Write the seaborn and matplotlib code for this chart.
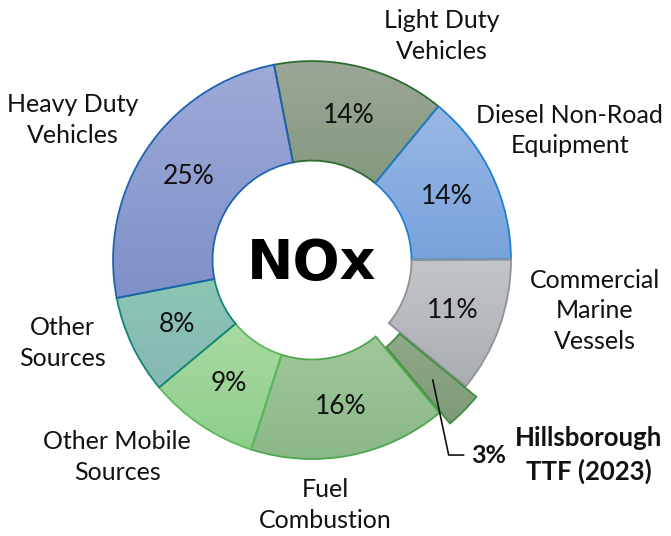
import numpy as np
import matplotlib
matplotlib.use('Agg')
import matplotlib.pyplot as plt
from matplotlib.colors import LinearSegmentedColormap
import seaborn as sns

# --- Data ---
sources = ['Light Duty\nVehicles', 'Diesel Non-Road\nEquipment', 'Commercial\nMarine\nVessels',
           'Hillsborough\nTTF (2023)', 'Fuel\nCombustion', 'Other Mobile\nSources',
           'Other\nSources', 'Heavy Duty\nVehicles']
shares = [14, 14, 11, 3, 16, 9, 8, 25]

# --- Style ---
top_colors = ['#9CA797', '#9AB8E6', '#C3C5C8', '#90A988', '#A0C89B', '#A9DAA4', '#8CC6B4', '#9EAAD8']
bottom_colors = ['#84997F', '#78A2DC', '#A9ADB2', '#7F9A78', '#8BB887', '#8ECE89', '#86B8B3', '#7F90C9']
edge_colors = ['#2F6B2F', '#1F7FCF', '#8E9196', '#3F8F3F', '#4EA64E', '#5CB85C', '#12857A', '#1F63B0']
explode = [0, 0, 0, 0.075, 0, 0, 0, 0]

# outer label positions (data units, radius = 1)
label_pos = [(0.653, 1.126), (1.296, 0.653), (1.422, -0.256), None,
             (0.065, -1.231), (-0.980, -0.990), (-1.256, -0.417), (-1.201, 0.704)]

sns.set_theme(style='white')
plt.rcParams['font.family'] = ['Lato', 'DejaVu Sans']

fig = plt.figure(figsize=(6.71, 5.36), dpi=100)
ax = fig.add_axes([0, 0, 1, 1])

wedges, _ = ax.pie(shares, colors=bottom_colors, startangle=101, counterclock=False,
                   explode=explode, radius=1.0,
                   wedgeprops=dict(width=0.5, linewidth=1.3))

# vertical gradient fill for each slice, clipped to the wedge
grad = np.linspace(0, 1, 256).reshape(-1, 1)
for w, ct, cb, ec in zip(wedges, top_colors, bottom_colors, edge_colors):
    w.set_edgecolor(ec)
    ext = w.get_path().get_extents()
    cmap = LinearSegmentedColormap.from_list('g', [cb, ct])
    im = ax.imshow(grad, cmap=cmap, origin='lower', aspect='auto',
                   extent=(ext.x0, ext.x1, ext.y0, ext.y1), zorder=w.get_zorder() - 0.1)
    im.set_clip_path(w)
    w.set_facecolor('none')
    w.set_zorder(w.get_zorder() + 0.5)

# percent labels in the ring
for i, (w, s) in enumerate(zip(wedges, shares)):
    if i == 3:
        continue
    ang = np.deg2rad((w.theta1 + w.theta2) / 2)
    ax.text(0.75 * np.cos(ang), 0.75 * np.sin(ang), f'{s}%', ha='center', va='center',
            fontsize=19, color='#111111', zorder=5)

# outer category labels
for lab, pos in zip(sources, label_pos):
    if pos is None:
        continue
    ax.text(pos[0], pos[1], lab, ha='center', va='center', fontsize=18,
            color='#111111', linespacing=1.38)

# highlighted slice: leader line + bold labels
w = wedges[3]
ang = np.deg2rad((w.theta1 + w.theta2) / 2)
cx, cy = w.center
start = (cx + 0.78 * np.cos(ang), cy + 0.78 * np.sin(ang))
ax.annotate('3%', xy=start, xytext=(0.80, -0.98), ha='left', va='center',
            fontsize=18, fontweight='bold', color='#111111', zorder=6,
            arrowprops=dict(arrowstyle='-', color='#111111', lw=1.2,
                            connectionstyle='angle,angleA=0,angleB=-78,rad=0',
                            shrinkA=3, shrinkB=0))
ax.text(1.39, -0.98, sources[3], ha='center', va='center', fontsize=18.5,
        fontweight='bold', color='#111111', linespacing=1.38)

ax.text(0, -0.02, 'NOx', ha='center', va='center', fontsize=40,
        fontweight='black', color='black', family='DejaVu Sans', zorder=6)

ax.set_xlim(-1.568, 1.804)
ax.set_ylim(-1.387, 1.307)
ax.set_aspect('equal')
ax.axis('off')

fig.savefig('out.png', dpi=100, facecolor='white')
